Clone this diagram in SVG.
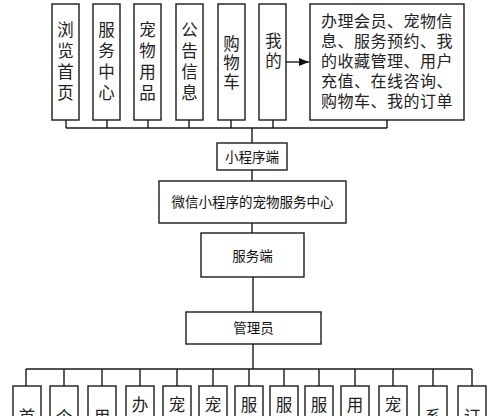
<svg xmlns="http://www.w3.org/2000/svg" width="500" height="416" viewBox="0 0 500 416">
<style>
.box{fill:#fff;stroke:#1a1a1a;stroke-width:1.4}
.ln{fill:none;stroke:#1a1a1a;stroke-width:1.4}
.v{font-family:"Liberation Sans","Noto Sans CJK SC",sans-serif;font-size:16.5px;fill:#222;text-anchor:middle}
.m{font-family:"Liberation Sans","Noto Sans CJK SC",sans-serif;font-size:13.5px;fill:#111;text-anchor:middle}
.t{font-family:"Liberation Sans","Noto Sans CJK SC",sans-serif;font-size:16px;fill:#222;letter-spacing:0.5px}
</style>
<defs>
<marker id="ah" markerWidth="10" markerHeight="8" refX="10" refY="4" orient="auto" markerUnits="userSpaceOnUse">
<path d="M0,0 L10,4 L0,8 Z" fill="#111"/>
</marker>
</defs>
<rect width="500" height="416" fill="#fff"/>
<g id="connectors">
<path class="ln" d="M66,120V128M107,120V128M148,120V128M189,120V128M231,120V128M273,120V128M387,120V128M66,128H387"/>
<path class="ln" d="M252,128V143M252,170V181M252,223V233M253,277V312M253,344V369"/>
<path class="ln" d="M26,369H472M26,369V386M64,369V386M102,369V386M140,369V386M177,369V386M213,369V386M249,369V386M284,369V386M319,369V386M355,369V386M393,369V386M433,369V386M472,369V386"/>
<line class="ln" x1="286" y1="62" x2="309" y2="62" marker-end="url(#ah)"/>
</g>
<g id="n-browse"><rect class="box" x="52" y="4" width="27" height="116"/><text class="v"><tspan x="65.5" y="36">浏</tspan><tspan x="65.5" y="57">览</tspan><tspan x="65.5" y="78">首</tspan><tspan x="65.5" y="99">页</tspan></text></g>
<g id="n-service"><rect class="box" x="93" y="4" width="27" height="116"/><text class="v"><tspan x="106.5" y="36">服</tspan><tspan x="106.5" y="57">务</tspan><tspan x="106.5" y="78">中</tspan><tspan x="106.5" y="99">心</tspan></text></g>
<g id="n-goods"><rect class="box" x="134" y="4" width="27" height="116"/><text class="v"><tspan x="147.5" y="36">宠</tspan><tspan x="147.5" y="57">物</tspan><tspan x="147.5" y="78">用</tspan><tspan x="147.5" y="99">品</tspan></text></g>
<g id="n-notice"><rect class="box" x="176" y="4" width="27" height="116"/><text class="v"><tspan x="189.5" y="36">公</tspan><tspan x="189.5" y="57">告</tspan><tspan x="189.5" y="78">信</tspan><tspan x="189.5" y="99">息</tspan></text></g>
<g id="n-cart"><rect class="box" x="218" y="4" width="27" height="116"/><text class="v"><tspan x="231.5" y="50">购</tspan><tspan x="231.5" y="69">物</tspan><tspan x="231.5" y="88">车</tspan></text></g>
<g id="n-mine"><rect class="box" x="259" y="4" width="27" height="116"/><text class="v"><tspan x="273.5" y="47">我</tspan><tspan x="273.5" y="67">的</tspan></text></g>
<g id="n-mine-detail"><rect class="box" x="310" y="4" width="154" height="116"/><text class="t"><tspan x="321" y="27">办理会员、宠物信</tspan><tspan x="321" y="47">息、服务预约、我</tspan><tspan x="321" y="67">的收藏管理、用户</tspan><tspan x="321" y="87">充值、在线咨询、</tspan><tspan x="321" y="107">购物车、我的订单</tspan></text></g>
<g id="n-mini"><rect class="box" x="217" y="143" width="70" height="27"/><text class="m" x="252" y="161.5">小程序端</text></g>
<g id="n-center"><rect class="box" x="159" y="181" width="187" height="42"/><text class="m" x="252.5" y="207">微信小程序的宠物服务中心</text></g>
<g id="n-server"><rect class="box" x="201" y="233" width="103" height="44"/><text class="m" x="252.5" y="260.5">服务端</text></g>
<g id="n-admin"><rect class="box" x="186" y="312" width="135" height="32"/><text class="m" x="253.5" y="332.5">管理员</text></g>
<g id="n-b1"><rect class="box" x="13" y="386" width="28" height="120"/><text class="v" x="27" y="423">首</text></g>
<g id="n-b2"><rect class="box" x="50" y="386" width="28" height="120"/><text class="v" x="64" y="423">个</text></g>
<g id="n-b3"><rect class="box" x="88" y="386" width="28" height="120"/><text class="v" x="102" y="423">用</text></g>
<g id="n-b4"><rect class="box" x="126" y="386" width="28" height="120"/><text class="v" x="140" y="411">办</text></g>
<g id="n-b5"><rect class="box" x="163" y="386" width="28" height="120"/><text class="v" x="177" y="411">宠</text></g>
<g id="n-b6"><rect class="box" x="199" y="386" width="28" height="120"/><text class="v" x="213" y="411">宠</text></g>
<g id="n-b7"><rect class="box" x="235" y="386" width="28" height="120"/><text class="v" x="249" y="411">服</text></g>
<g id="n-b8"><rect class="box" x="270" y="386" width="28" height="120"/><text class="v" x="284" y="411">服</text></g>
<g id="n-b9"><rect class="box" x="305" y="386" width="28" height="120"/><text class="v" x="319" y="411">服</text></g>
<g id="n-b10"><rect class="box" x="341" y="386" width="28" height="120"/><text class="v" x="355" y="411">用</text></g>
<g id="n-b11"><rect class="box" x="379" y="386" width="28" height="120"/><text class="v" x="393" y="411">宠</text></g>
<g id="n-b12"><rect class="box" x="419" y="386" width="28" height="120"/><text class="v" x="433" y="423">系</text></g>
<g id="n-b13"><rect class="box" x="458" y="386" width="28" height="120"/><text class="v" x="472" y="423">订</text></g>
</svg>
